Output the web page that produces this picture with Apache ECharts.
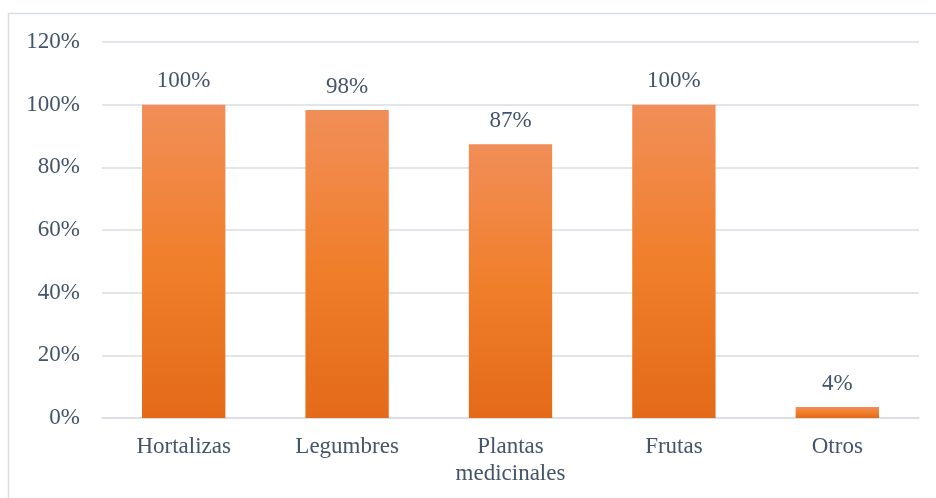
<!DOCTYPE html>
<html>
<head>
<meta charset="utf-8">
<script src="https://cdn.jsdelivr.net/npm/echarts@6/dist/echarts.min.js"></script>
<style>
html,body{margin:0;padding:0;background:#fff;}
#chart{width:936px;height:498px;}
</style>
</head>
<body>
<div id="chart"></div>
<script>
const categories = ['Hortalizas', 'Legumbres', 'Plantas\nmedicinales', 'Frutas', 'Otros'];
const values = [1.00, 0.983, 0.874, 1.00, 0.035];
const yTicks = [0, 0.2, 0.4, 0.6, 0.8, 1.0, 1.2];

const FONT = '"Liberation Serif", "Times New Roman", serif';
const TEXT = '#44546A';

const chart = echarts.init(document.getElementById('chart'));
chart.setOption({
  animation: false,
  backgroundColor: '#fff',
  graphic: [{
    type: 'rect',
    shape: { x: 8.5, y: 13.5, width: 1000, height: 600 },
    style: { fill: 'none', stroke: '#D9DEE5', lineWidth: 1.5 },
    silent: true, z: -1
  }],
  grid: { left: 102, right: 17, top: 42, bottom: 80, containLabel: false },
  xAxis: {
    type: 'category',
    data: categories,
    axisLine: { show: true, lineStyle: { color: '#D9DDE3', width: 1.5 } },
    axisTick: { show: false },
    axisLabel: {
      color: TEXT, fontFamily: FONT, fontSize: 23, margin: 15, lineHeight: 27,
      interval: 0
    }
  },
  yAxis: {
    type: 'value',
    min: yTicks[0],
    max: yTicks[yTicks.length - 1],
    interval: 0.2,
    axisLine: { show: false },
    axisTick: { show: false },
    splitLine: { lineStyle: { color: '#D9DDE3', width: 1.5 } },
    axisLabel: {
      color: TEXT, fontFamily: FONT, fontSize: 23, margin: 22,
      formatter: v => Math.round(v * 100) + '%'
    }
  },
  series: [{
    type: 'bar',
    data: values,
    barWidth: '51%',
    itemStyle: {
      color: new echarts.graphic.LinearGradient(0, 0, 0, 1, [
        { offset: 0, color: '#F18E58' },
        { offset: 0.5, color: '#F07F2C' },
        { offset: 1, color: '#E36A19' }
      ])
    },
    label: {
      show: true,
      position: 'top',
      distance: 12,
      color: TEXT,
      fontFamily: FONT,
      fontSize: 23,
      formatter: p => Math.round(p.value * 100) + '%'
    }
  }]
});
</script>
</body>
</html>
